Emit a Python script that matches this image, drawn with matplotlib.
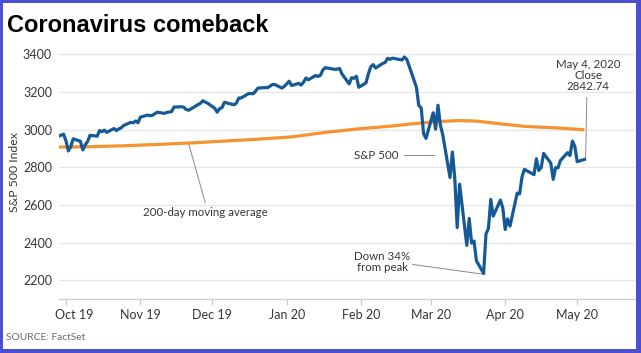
import matplotlib
matplotlib.use("Agg")
import matplotlib.pyplot as plt
import matplotlib.dates as mdates
import matplotlib.transforms as mtransforms
from matplotlib.patches import Rectangle
import pandas as pd

# ---------------- data ----------------
start_date = "2019-09-27"
end_date = "2020-05-04"
market_holidays = ["2019-11-28", "2019-12-25", "2020-01-01", "2020-01-20",
                   "2020-02-17", "2020-04-10"]

sp500_sep = [2961.8, 2976.7]
sp500_oct = [2940.3, 2887.6, 2910.6, 2952.0, 2938.8, 2893.1, 2919.4, 2938.1,
             2970.3, 2966.2, 2995.7, 2989.7, 2998.0, 2986.2, 3006.7, 2996.0,
             3004.5, 3010.3, 3022.6, 3039.4, 3036.9, 3046.8, 3037.6]
sp500_nov = [3066.9, 3078.3, 3074.6, 3076.8, 3085.2, 3093.1, 3087.0, 3091.8,
             3094.0, 3096.6, 3120.5, 3122.0, 3120.2, 3108.5, 3103.5, 3110.3,
             3133.6, 3140.5, 3153.6, 3141.0]
sp500_dec = [3113.9, 3093.2, 3112.8, 3117.4, 3145.9, 3136.0, 3132.5, 3141.6,
             3168.6, 3168.8, 3191.5, 3192.5, 3191.1, 3205.4, 3221.2, 3224.0,
             3223.4, 3239.9, 3240.0, 3221.3, 3230.8]
sp500_jan = [3257.9, 3234.9, 3246.3, 3237.2, 3253.1, 3274.7, 3265.4, 3288.1,
             3283.2, 3289.3, 3316.8, 3329.6, 3320.8, 3321.8, 3325.5, 3295.5,
             3243.6, 3276.2, 3273.4, 3283.7, 3225.5]
sp500_feb = [3248.9, 3297.6, 3334.7, 3345.8, 3327.7, 3352.1, 3357.8, 3379.5,
             3373.9, 3380.2, 3370.3, 3386.2, 3373.2, 3337.8, 3225.9, 3128.2,
             3116.4, 2978.8, 2954.2]
sp500_mar = [3090.2, 3003.4, 3130.1, 3023.9, 2972.4, 2746.6, 2882.2, 2741.4,
             2480.6, 2711.0, 2386.1, 2529.2, 2398.1, 2409.4, 2304.9, 2237.4,
             2447.3, 2475.6, 2630.1, 2541.5, 2626.7, 2584.6]
sp500_apr = [2470.5, 2526.9, 2488.7, 2663.7, 2659.4, 2750.0, 2789.8, 2761.6,
             2846.1, 2783.4, 2799.6, 2874.6, 2823.2, 2736.6, 2799.3, 2797.8,
             2836.7, 2878.5, 2863.4, 2939.5, 2912.4]
sp500_may = [2830.7, 2842.7]

ma_dates = ["2019-09-27", "2019-10-11", "2019-10-25", "2019-11-08", "2019-11-22",
            "2019-12-06", "2019-12-20", "2020-01-03", "2020-01-17", "2020-01-31",
            "2020-02-14", "2020-02-21", "2020-02-28", "2020-03-06", "2020-03-13",
            "2020-03-20", "2020-03-27", "2020-04-03", "2020-04-10", "2020-04-17",
            "2020-04-24", "2020-05-04"]
ma_values = [2908, 2910, 2915, 2922, 2930, 2940, 2950, 2962, 2986, 3005,
             3020, 3030, 3038, 3045, 3049, 3046, 3036, 3026, 3017, 3013,
             3009, 3000]

y_ticks = [2200, 2400, 2600, 2800, 3000, 3200, 3400]
x_tick_dates = ["2019-10-01", "2019-11-01", "2019-12-01", "2020-01-01",
                "2020-02-01", "2020-03-01", "2020-04-01", "2020-05-01"]

# ---------------- build ----------------
days = pd.bdate_range(start_date, end_date)
days = days[~days.isin(pd.to_datetime(market_holidays))]
sp500 = (sp500_sep + sp500_oct + sp500_nov + sp500_dec + sp500_jan +
         sp500_feb + sp500_mar + sp500_apr + sp500_may)
ma_x = pd.to_datetime(ma_dates)

W, H = 641, 353
fig = plt.figure(figsize=(W / 100, H / 100), dpi=100)
fig.patch.set_facecolor("white")

ax_l, ax_r, ax_b, ax_t = 59, 635, 299.3, 45
ax = fig.add_axes([ax_l / W, 1 - ax_b / H, (ax_r - ax_l) / W, (ax_b - ax_t) / H])

FONT = ["Lato", "DejaVu Sans"]
TXT = "#363636"
BLUE = "#155a96"
ORANGE = "#f59331"

ax.plot(ma_x, ma_values, color=ORANGE, lw=2.3, solid_capstyle="butt", zorder=3)
ax.plot(days, sp500, color=BLUE, lw=2.3, solid_joinstyle="round", zorder=4)

oct1 = mdates.date2num(pd.Timestamp("2019-10-01"))
ax.set_xlim(oct1 - 7 / 2.4, oct1 + (635 - 66) / 2.4)
ax.set_ylim(2100, 3450)

ax.set_yticks(y_ticks)
ax.set_yticklabels([str(v) for v in y_ticks], fontfamily=FONT, fontsize=9, color=TXT)
ax.set_xticks(pd.to_datetime(x_tick_dates))
ax.xaxis.set_major_formatter(mdates.DateFormatter("%b %y"))
for lab in ax.get_xticklabels():
    lab.set_fontfamily(FONT)
    lab.set_fontsize(9)
    lab.set_color(TXT)
ax.tick_params(axis="y", length=0, pad=5)
ax.tick_params(axis="x", length=4, width=0.8, color="#c8c8c8", pad=3)
# shift first x label a little right as in reference
first = ax.get_xticklabels()[0]
first.set_transform(first.get_transform() +
                    mtransforms.ScaledTranslation(8 / 100, 0, fig.dpi_scale_trans))

for s in ["top", "right", "left"]:
    ax.spines[s].set_visible(False)
ax.spines["bottom"].set_color("#cfcfcf")
ax.spines["bottom"].set_linewidth(0.9)
ax.grid(axis="y", color="#e6e6e6", lw=0.9)
ax.set_axisbelow(True)

# annotations
line_kw = dict(color="#8a8a8a", lw=0.7)
d = lambda s: mdates.date2num(pd.Timestamp(s))

ax.plot([d("2019-11-21"), d("2019-11-28")], [2930, 2614], **line_kw, zorder=2)
ax.text(d("2019-11-28"), 2560, "200-day moving average", ha="center", va="center",
        fontfamily=FONT, fontsize=8.3, color=TXT)

ax.plot([d("2020-02-18 18:00"), d("2020-03-02 06:00")], [2864, 2864], **line_kw)
ax.text(d("2020-02-16 12:00"), 2862, "S&P 500", ha="right", va="center",
        fontfamily=FONT, fontsize=8.3, color=TXT)

ax.plot([d("2020-02-22 12:00"), d("2020-03-23 12:00")], [2285, 2232], **line_kw)
ax.text(d("2020-02-09 16:00"), 2296, "Down 34%\nfrom peak", ha="center", va="center",
        fontfamily=FONT, fontsize=8.3, color=TXT, linespacing=1.0)

ax.plot([d("2020-05-04 12:00"), d("2020-05-05")], [2848, 3171], **line_kw)
ax.text(d("2020-05-05 12:00"), 3288, "May 4, 2020\nClose\n2842.74", ha="center",
        va="center", fontfamily=FONT, fontsize=8.3, color=TXT, linespacing=1.0)

# titles and texts
fig.text(7 / W, 1 - 31.5 / H, "Coronavirus comeback", fontfamily=["Liberation Sans", "DejaVu Sans"],
         fontweight="bold", fontsize=17, color="black", va="baseline", ha="left")
fig.text(15 / W, 1 - 172 / H, "S&P 500 Index", rotation=90, ha="center", va="center",
         fontfamily=FONT, fontsize=8.8, color=TXT)
fig.text(6 / W, 1 - 338 / H, "SOURCE: FactSet", ha="left", va="center",
         fontfamily=FONT, fontsize=7.4, color="#6a6a6a")

# border frame
BORDER = "#4b50d2"
for (x0, y0, w, h) in [(0, 0, 3, H), (0, H - 3, W, 3), (636, 0, 5, H), (0, 0, W, 4)]:
    fig.add_artist(Rectangle((x0 / W, y0 / H), w / W, h / H, transform=fig.transFigure,
                             facecolor=BORDER, edgecolor="none", zorder=10))

fig.savefig("out.png", dpi=100)
